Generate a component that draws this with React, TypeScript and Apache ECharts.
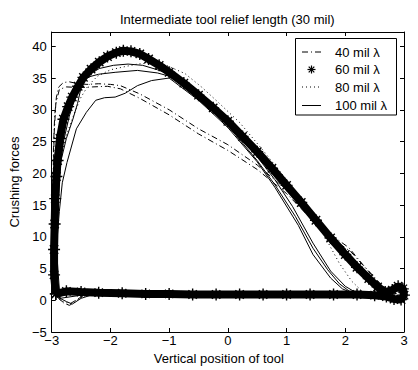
import React, { useEffect, useRef } from "react";
import * as echarts from "echarts";

const FONT = "'Liberation Sans', Arial, Helvetica, sans-serif";
const titleText = "Intermediate tool relief length (30 mil)";
const xName = "Vertical position of tool";
const yName = "Crushing forces";
const legendLabels = ["40 mil λ", "60 mil λ", "80 mil λ", "100 mil λ"];

const xMin = -3;
const xMax = 3;
const xStep = 1;
const yMin = -5;
const yMax = 42.25;
const yStep = 5;

// 40 mil λ (dash-dot), two loops
const mil40: number[][] = [
  [-2.95, 0.8], [-2.98, 8], [-2.98, 16], [-2.97, 24], [-2.95, 29], [-2.92, 32], [-2.88, 33.6],
  [-2.8, 34.3], [-2.7, 34.4], [-2.55, 34.1], [-2.4, 34.0], [-2.2, 34.1], [-2.0, 34.0],
  [-1.83, 33.8], [-1.5, 32.5], [-1.0, 30.0], [-0.5, 27.0], [0.0, 24.5], [0.5, 21.3],
  [1.0, 17.4], [1.4, 13.4], [1.8, 10.0], [2.06, 8.3], [2.3, 5.6], [2.56, 3.0], [2.72, 1.3],
  [2.85, 0.7], [2.5, 0.7], [1.5, 0.8], [0.0, 0.8], [-1.5, 0.9], [-2.3, 1.2], [-2.5, 0.6],
  [-2.6, -0.3], [-2.7, -0.8], [-2.8, -0.4], [-2.88, 0.3], [-2.95, 0.8],
  [-2.97, 9], [-2.97, 18], [-2.96, 26], [-2.93, 31], [-2.87, 33.2], [-2.75, 33.6],
  [-2.5, 33.5], [-2.3, 33.6], [-2.05, 33.7], [-1.83, 33.3], [-1.5, 31.8], [-1.0, 29.2],
  [-0.5, 26.2], [0.0, 23.6], [0.5, 20.6], [1.0, 16.8], [1.4, 13.0], [1.8, 9.6], [2.1, 7.6],
  [2.4, 4.5], [2.62, 2.2], [2.78, 0.9], [2.4, 0.7], [1.0, 0.8], [-1.0, 0.9], [-2.4, 1.1],
  [-2.55, 0.2], [-2.68, -0.5], [-2.82, -0.2], [-2.95, 0.8],
];

// 60 mil λ (asterisks)
const mil60: number[][] = [
  [-2.93, 1.0], [-2.96, 4], [-2.96, 8], [-2.95, 12], [-2.94, 16], [-2.92, 19.5], [-2.9, 22],
  [-2.86, 25.5], [-2.8, 28.5], [-2.72, 30.5], [-2.65, 32], [-2.55, 33.7], [-2.46, 35.1],
  [-2.33, 36.4], [-2.19, 37.5], [-2.05, 38.4], [-1.9, 39.0], [-1.78, 39.3], [-1.65, 39.2],
  [-1.5, 38.8], [-1.35, 38.0], [-1.17, 37.0], [-1.0, 35.9], [-0.75, 34.2], [-0.5, 32.3],
  [-0.25, 30.3], [0.0, 28.2], [0.25, 25.8], [0.5, 23.4], [0.75, 20.8], [1.0, 18.1],
  [1.25, 15.4], [1.5, 12.6], [1.75, 9.8], [2.0, 7.2], [2.2, 5.2], [2.4, 3.4], [2.55, 2.1],
  [2.68, 1.3], [2.8, 1.6], [2.9, 2.2], [2.98, 1.8], [3.0, 0.8], [2.95, 0.1], [2.83, 0.2],
  [2.7, 0.6], [2.5, 0.8], [2.2, 0.9], [1.8, 0.9], [1.4, 0.9], [1.0, 0.9], [0.6, 0.9],
  [0.2, 0.9], [-0.2, 0.9], [-0.6, 0.9], [-1.0, 1.0], [-1.4, 1.0], [-1.8, 1.1], [-2.2, 1.2],
  [-2.5, 1.3], [-2.75, 1.4], [-2.93, 1.0],
];

// 80 mil λ (dotted)
const mil80: number[][] = [
  [-2.94, 0.9], [-2.95, 8], [-2.93, 15], [-2.88, 20], [-2.82, 23.5], [-2.75, 26], [-2.62, 29.3],
  [-2.5, 32], [-2.38, 33.8], [-2.22, 35.3], [-2.0, 36.3], [-1.75, 36.8], [-1.54, 37.2],
  [-1.3, 37.4], [-1.05, 37.0], [-0.73, 35.7], [-0.45, 33.6], [-0.19, 31.4], [0.2, 28.0],
  [0.6, 23.6], [1.0, 19.0], [1.25, 16.0], [1.45, 13.3], [1.7, 9.2], [1.9, 5.8], [2.11, 3.0],
  [2.3, 1.3], [2.5, 0.8], [1.5, 0.9], [0.0, 0.9], [-1.5, 1.0], [-2.5, 1.2], [-2.94, 0.9],
];

// 100 mil λ (solid), three loops
const mil100: number[][] = [
  [-2.93, 0.8], [-2.94, 8], [-2.92, 14], [-2.87, 20], [-2.8, 25], [-2.7, 29], [-2.6, 32],
  [-2.52, 34.0], [-2.4, 35.3], [-2.19, 36.5], [-1.95, 37.0], [-1.7, 37.2], [-1.45, 37.0],
  [-1.2, 36.3], [-0.96, 35.5], [-0.5, 32.4], [0.0, 28.0], [0.5, 22.6], [0.8, 19.0],
  [1.1, 14.8], [1.45, 9.0], [1.75, 4.6], [2.0, 2.2], [2.2, 1.1], [2.5, 0.8], [1.5, 0.9],
  [0.0, 0.9], [-1.5, 1.0], [-2.5, 1.3], [-2.9, 0.6],
  [-2.91, 8], [-2.89, 15], [-2.85, 21.7], [-2.75, 25.5], [-2.64, 28.5], [-2.56, 31],
  [-2.5, 33.5], [-2.44, 35.0], [-2.2, 35.6], [-1.92, 35.9], [-1.54, 36.2], [-1.2, 35.8],
  [-0.96, 35.2], [-0.5, 31.8], [0.0, 27.5], [0.5, 22.0], [0.8, 18.2], [1.15, 13.2],
  [1.45, 8.2], [1.7, 4.8], [1.9, 2.6], [2.1, 1.2], [2.4, 0.8], [1.0, 0.9], [-1.0, 1.0],
  [-2.2, 1.2], [-2.86, 0.3],
  [-2.92, 8.3], [-2.87, 14], [-2.82, 18.5], [-2.74, 21.7], [-2.58, 27], [-2.41, 29.6],
  [-2.25, 31.5], [-2.1, 31.9], [-1.92, 32.0], [-1.75, 32.6], [-1.54, 33.8], [-1.3, 34.6],
  [-1.0, 35.0], [-0.5, 31.5], [0.0, 27.2], [0.5, 21.8], [0.8, 17.8], [1.2, 11.8],
  [1.45, 7.2], [1.75, 3.5], [1.95, 1.8], [2.15, 1.0], [2.5, 0.8], [1.0, 0.9], [-1.0, 1.0],
  [-2.2, 1.2], [-2.5, 0.3], [-2.65, -0.6], [-2.75, -0.2], [-2.86, 0.3],
];

const ASTERISK = "path://M5 0L5 10M0 5L10 5M1.5 1.5L8.5 8.5M8.5 1.5L1.5 8.5";

const fmt = (v: number) => String(v).replace("-", "\u2212");

export default function App() {
  const ref = useRef<HTMLDivElement>(null);
  useEffect(() => {
    if (!ref.current) return;
    const chart = echarts.init(ref.current, undefined, { renderer: "svg" });
    const axisCommon = {
      axisLine: { show: true, onZero: false, lineStyle: { color: "#000", width: 1 } },
      axisTick: { show: true, inside: true, length: 4, lineStyle: { color: "#000" } },
      splitLine: { show: false },
    };
    const lx = 302, rx = 321, tx = 335;
    const rows = [52, 69.5, 87, 105.5];
    const asterisk = (cx: number, cy: number, r: number) => [
      { type: "line", shape: { x1: cx - r, y1: cy, x2: cx + r, y2: cy }, style: { stroke: "#000", lineWidth: 1.2 } },
      { type: "line", shape: { x1: cx, y1: cy - r, x2: cx, y2: cy + r }, style: { stroke: "#000", lineWidth: 1.2 } },
      { type: "line", shape: { x1: cx - r * 0.7, y1: cy - r * 0.7, x2: cx + r * 0.7, y2: cy + r * 0.7 }, style: { stroke: "#000", lineWidth: 1.2 } },
      { type: "line", shape: { x1: cx + r * 0.7, y1: cy - r * 0.7, x2: cx - r * 0.7, y2: cy + r * 0.7 }, style: { stroke: "#000", lineWidth: 1.2 } },
    ];
    chart.setOption({
      animation: false,
      backgroundColor: "#fff",
      textStyle: { fontFamily: FONT },
      title: {
        text: titleText,
        left: 115,
        top: 8,
        textStyle: { fontFamily: FONT, fontSize: 13, fontWeight: "normal", color: "#000" },
      },
      grid: { left: 39, right: 14, top: 32, bottom: 36 },
      xAxis: [
        {
          type: "value", min: xMin, max: xMax, interval: xStep, position: "bottom",
          name: xName, nameLocation: "middle", nameGap: 20,
          nameTextStyle: { fontFamily: FONT, fontSize: 13, color: "#000", padding: [0, 18, 0, 0] },
          axisLabel: { formatter: fmt, fontFamily: FONT, fontSize: 13, color: "#000", margin: 2 },
          ...axisCommon,
        },
        {
          type: "value", min: xMin, max: xMax, interval: xStep, position: "top",
          axisLabel: { show: false },
          ...axisCommon,
        },
      ],
      yAxis: [
        {
          type: "value", min: yMin, max: yMax, interval: yStep, position: "left",
          name: yName, nameLocation: "middle", nameGap: 24, nameRotate: 90,
          nameTextStyle: { fontFamily: FONT, fontSize: 13, color: "#000" },
          axisLabel: { formatter: fmt, fontFamily: FONT, fontSize: 13, color: "#000", margin: 5, showMaxLabel: false },
          ...axisCommon,
        },
        {
          type: "value", min: yMin, max: yMax, interval: yStep, position: "right",
          axisLabel: { show: false },
          ...axisCommon,
        },
      ],
      series: [
        {
          name: legendLabels[0], type: "line", data: mil40, showSymbol: false, z: 2,
          lineStyle: { color: "#000", width: 1, type: [6, 3, 1, 3] },
        },
        {
          name: legendLabels[2], type: "line", data: mil80, showSymbol: false, z: 2,
          lineStyle: { color: "#000", width: 1, type: [1, 3] },
        },
        {
          name: legendLabels[3], type: "line", data: mil100, showSymbol: false, z: 2,
          lineStyle: { color: "#000", width: 1 },
        },
        {
          name: legendLabels[1], type: "line", data: mil60, z: 3, clip: false,
          symbol: ASTERISK, symbolSize: 12, showSymbol: true,
          itemStyle: { color: "#000", borderColor: "#000", borderWidth: 1.4 },
          lineStyle: { color: "#000", width: 8 },
        },
      ],
      graphic: [
        {
          type: "group", z: 100,
          children: [
            { type: "rect", shape: { x: 295.5, y: 38.5, width: 101, height: 76.5 }, style: { fill: "#fff", stroke: "#000", lineWidth: 1 } },
            { type: "line", shape: { x1: lx, y1: rows[0], x2: rx, y2: rows[0] }, style: { stroke: "#000", lineWidth: 1, lineDash: [6, 3, 1, 3] } },
            ...asterisk((lx + rx) / 2, rows[1], 4),
            { type: "line", shape: { x1: lx, y1: rows[2], x2: rx, y2: rows[2] }, style: { stroke: "#000", lineWidth: 1, lineDash: [1, 3] } },
            { type: "line", shape: { x1: lx, y1: rows[3], x2: rx, y2: rows[3] }, style: { stroke: "#000", lineWidth: 1 } },
            ...legendLabels.map((t, i) => ({
              type: "text", x: tx, y: rows[i],
              style: { text: t, fontFamily: FONT, fontSize: 13, fill: "#000", verticalAlign: "middle", align: "left" },
            })),
          ],
        },
      ],
    } as any);
    return () => chart.dispose();
  }, []);
  return <div ref={ref} style={{ width: 418, height: 370, position: "absolute", left: 0, top: 0 }} />;
}
